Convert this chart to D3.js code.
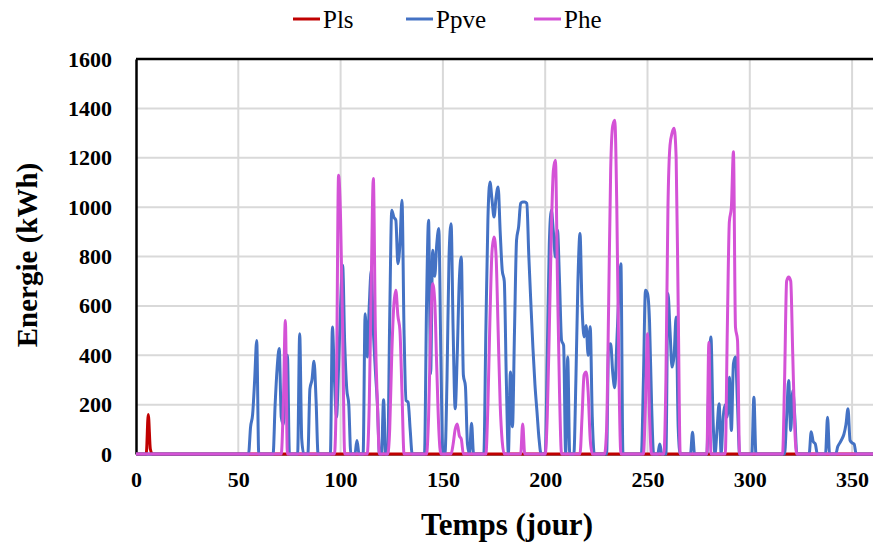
<!DOCTYPE html>
<html>
<head>
<meta charset="utf-8">
<script src="https://cdn.jsdelivr.net/npm/d3@7/dist/d3.min.js"></script>
<style>
  html, body { margin: 0; padding: 0; background: #fff; }
  svg { display: block; }
  text { font-family: "Liberation Serif", "Times New Roman", serif; }
</style>
</head>
<body>
<svg id="chart" width="873" height="545"></svg>
<script>
// ---------------- DATA ----------------
const seriesNames = ["Pls", "Ppve", "Phe"];
const xTicks = [0, 50, 100, 150, 200, 250, 300, 350];
const yTicks = [0, 200, 400, 600, 800, 1000, 1200, 1400, 1600];

const plsDays   = [0, 5, 6, 7, 8, 365];
const plsValues = [0, 0, 160, 20, 0, 0];

const pveDays = [0,
  55, 56, 57, 58, 59, 60,
  67, 68, 69, 70, 71, 72, 73, 74, 75,
  79, 80, 81, 82,
  84, 85, 86, 87, 88, 89,
  95, 96, 97, 98, 99, 100, 101, 102, 103, 104, 105, 107, 108, 109,
  111, 112, 113, 114, 115, 116, 117, 118, 119, 120, 121, 122,
  123, 124, 125, 126, 127, 128, 129, 130, 131, 132, 133, 134, 135,
  141, 142, 143, 144, 145, 146, 147, 148, 149, 150,
  151, 152, 153, 154, 155, 156, 157, 158, 159, 160, 161, 162, 163, 164, 165,
  170, 171, 172, 173, 174, 175, 176, 177, 178, 179, 180, 181, 182, 183, 184, 185, 186, 187, 188, 189, 190, 191, 192, 193, 194, 195, 196, 197, 198,
  200, 201, 202, 203, 204, 205, 206, 207, 208, 209, 210, 211, 212,
  214, 215, 216, 217, 218, 219, 220, 221, 222, 223, 224,
  230, 231, 232, 233, 234, 235, 236, 237, 238,
  247, 248, 249, 250, 251, 252, 253, 255, 256, 257,
  259, 260, 261, 262, 263, 264, 265, 266,
  271, 272, 273,
  279, 280, 281, 282, 283, 284, 285, 286, 287, 288, 289, 290, 291, 292, 293, 294, 295,
  301, 302, 303,
  317, 318, 319, 320, 321, 322, 323,
  329, 330, 331, 332, 333,
  337, 338, 339,
  342, 343, 344, 345, 346, 347, 348, 349, 350, 351, 352,
  365];
const pveValues = [0,
  0, 110, 160, 300, 460, 0,
  0, 200, 350, 427, 150, 120, 250, 400, 0,
  0, 487, 60, 0,
  0, 264, 300, 376, 220, 0,
  0, 514, 300, 149, 350, 600, 765, 450, 264, 200, 0, 0, 55, 0,
  0, 568, 393, 600, 744, 500, 339, 200, 0, 0, 220, 0,
  0, 550, 987, 960, 947, 771, 850, 1028, 500, 217, 210, 100, 0,
  0, 600, 947, 325, 825, 720, 850, 913, 400, 0,
  0, 300, 800, 933, 500, 183, 400, 700, 798, 320, 275, 40, 0, 125, 0,
  0, 500, 950, 1102, 1030, 960, 1040, 1082, 900, 744, 700, 300, 0, 332, 110, 500, 866, 920, 1015, 1021, 1021, 1015, 800, 610, 430, 280, 170, 60, 0,
  0, 400, 850, 987, 900, 798, 906, 700, 460, 440, 0, 393, 0,
  0, 300, 700, 893, 600, 474, 521, 400, 515, 150, 0,
  0, 440, 447, 330, 268, 450, 650, 771, 0,
  0, 300, 663, 650, 534, 200, 0, 0, 41, 0,
  0, 650, 500, 352, 400, 555, 109, 0,
  0, 88, 0,
  0, 300, 474, 150, 0, 100, 204, 0, 150, 200, 150, 311, 95, 366, 393, 200, 0,
  0, 230, 0,
  0, 150, 298, 95, 257, 150, 0,
  0, 90, 50, 41, 0,
  0, 149, 0,
  0, 30, 45, 60, 80, 120, 183, 55, 45, 40, 0,
  0];

const pheDays = [0,
  71, 72, 73, 74,
  97, 98, 99, 100, 101, 102,
  113, 114, 115, 116, 117, 118, 119,
  123, 124, 125, 126, 127, 128, 129, 130, 131,
  142, 143, 144, 145, 146, 147, 148, 149,
  154, 155, 156, 157, 158, 159, 160,
  171, 172, 173, 174, 175, 176, 177, 178, 179, 180,
  188, 189, 190,
  200, 201, 202, 203, 204, 205, 206, 207, 208,
  217, 218, 219, 220, 221, 222, 223,
  229, 230, 231, 232, 233, 234, 235, 236, 237,
  248, 249, 250, 251, 252,
  258, 259, 260, 261, 262, 263, 264, 265, 266,
  279, 280, 281,
  288, 289, 290, 291, 292, 293, 294, 295,
  316, 317, 318, 319, 320, 321, 322, 323,
  365];
const pheValues = [0,
  0, 200, 541, 0,
  0, 300, 1129, 950, 500, 0,
  0, 200, 700, 1116, 500, 200, 0,
  0, 100, 400, 600, 663, 560, 500, 250, 0,
  0, 150, 500, 690, 620, 350, 100, 0,
  0, 40, 100, 122, 75, 60, 0,
  0, 200, 550, 820, 879, 800, 500, 200, 50, 0,
  0, 122, 0,
  0, 150, 500, 900, 1150, 1190, 700, 250, 0,
  0, 150, 320, 332, 250, 60, 0,
  0, 100, 600, 1150, 1330, 1352, 1000, 350, 0,
  0, 200, 487, 150, 0,
  0, 300, 1000, 1250, 1300, 1319, 1200, 600, 0,
  0, 453, 0,
  0, 500, 940, 1000, 1224, 514, 460, 0,
  0, 300, 700, 717, 700, 400, 100, 0,
  0];

const colors = { Pls: "#C00000", Ppve: "#4472C4", Phe: "#D452D6" };

// ---------------- CHART ----------------
const svg = d3.select("#chart");
const W = 873, H = 545;
const plotLeft = 136, plotTop = 59, plotBottom = 454;
const x = d3.scaleLinear().domain([0, 365]).range([plotLeft, plotLeft + 365 * 2.046]);
const y = d3.scaleLinear().domain([0, 1600]).range([plotBottom, plotTop]);

svg.append("defs").append("clipPath").attr("id", "plotclip")
  .append("rect").attr("x", plotLeft).attr("y", plotTop - 5)
  .attr("width", W - plotLeft).attr("height", plotBottom - plotTop + 10);

// gridlines
const grid = svg.append("g");
grid.selectAll("line.h").data(yTicks.filter(d => d > 0 && d < 1600)).join("line")
  .attr("x1", plotLeft).attr("x2", W).attr("y1", d => y(d)).attr("y2", d => y(d))
  .attr("stroke", "#d9d9d9").attr("stroke-width", 2);
grid.selectAll("line.v").data(xTicks.filter(d => d > 0)).join("line")
  .attr("x1", d => x(d)).attr("x2", d => x(d)).attr("y1", plotTop).attr("y2", plotBottom)
  .attr("stroke", "#d9d9d9").attr("stroke-width", 2);

// top border
svg.append("line").attr("x1", plotLeft).attr("x2", W).attr("y1", plotTop).attr("y2", plotTop)
  .attr("stroke", "#000").attr("stroke-width", 2.5);

// axes
const yAxis = d3.axisLeft(y).tickValues(yTicks).tickFormat(d3.format("d")).tickSize(0).tickPadding(24);
const gy = svg.append("g").attr("transform", `translate(${plotLeft},0)`).call(yAxis);
gy.select(".domain").attr("stroke", "#000").attr("stroke-width", 2.5);
gy.selectAll("text").attr("font-size", 22).attr("font-weight", "bold")
  .attr("font-family", "Liberation Serif").attr("fill", "#000");

const xAxis = d3.axisBottom(x).tickValues(xTicks).tickFormat(d3.format("d")).tickSize(0).tickPadding(17);
const gx = svg.append("g").attr("transform", `translate(0,${plotBottom})`).call(xAxis);
gx.select(".domain").attr("stroke", "#000").attr("stroke-width", 2);
gx.selectAll("text").attr("font-size", 22).attr("font-weight", "bold")
  .attr("font-family", "Liberation Serif").attr("fill", "#000");

// series
const line = d3.line().x(d => x(d[0])).y(d => y(d[1])).curve(d3.curveMonotoneX);
const seriesData = {
  Pls: d3.zip(plsDays, plsValues),
  Ppve: d3.zip(pveDays, pveValues),
  Phe: d3.zip(pheDays, pheValues)
};
const plot = svg.append("g").attr("clip-path", "url(#plotclip)");
seriesNames.forEach(name => {
  plot.append("path").datum(seriesData[name])
    .attr("d", line).attr("fill", "none")
    .attr("stroke", colors[name]).attr("stroke-width", 3)
    .attr("stroke-linejoin", "round").attr("stroke-linecap", "round");
});

// axis titles
svg.append("text").attr("x", 507).attr("y", 535).attr("text-anchor", "middle")
  .attr("font-size", 31).attr("font-weight", "bold").text("Temps (jour)");
svg.append("text").attr("transform", "translate(37,255) rotate(-90)")
  .attr("text-anchor", "middle").attr("font-size", 29).attr("font-weight", "bold").text("Energie (kWh)");

// legend
const legendItems = [
  { name: "Pls", x: 293 },
  { name: "Ppve", x: 406 },
  { name: "Phe", x: 534 }
];
const lg = svg.append("g");
legendItems.forEach(it => {
  lg.append("line").attr("x1", it.x).attr("x2", it.x + 27).attr("y1", 19).attr("y2", 19)
    .attr("stroke", colors[it.name]).attr("stroke-width", 3);
  lg.append("text").attr("x", it.x + 30).attr("y", 28).attr("font-size", 25)
    .attr("fill", "#000").text(it.name);
});
</script>
</body>
</html>
